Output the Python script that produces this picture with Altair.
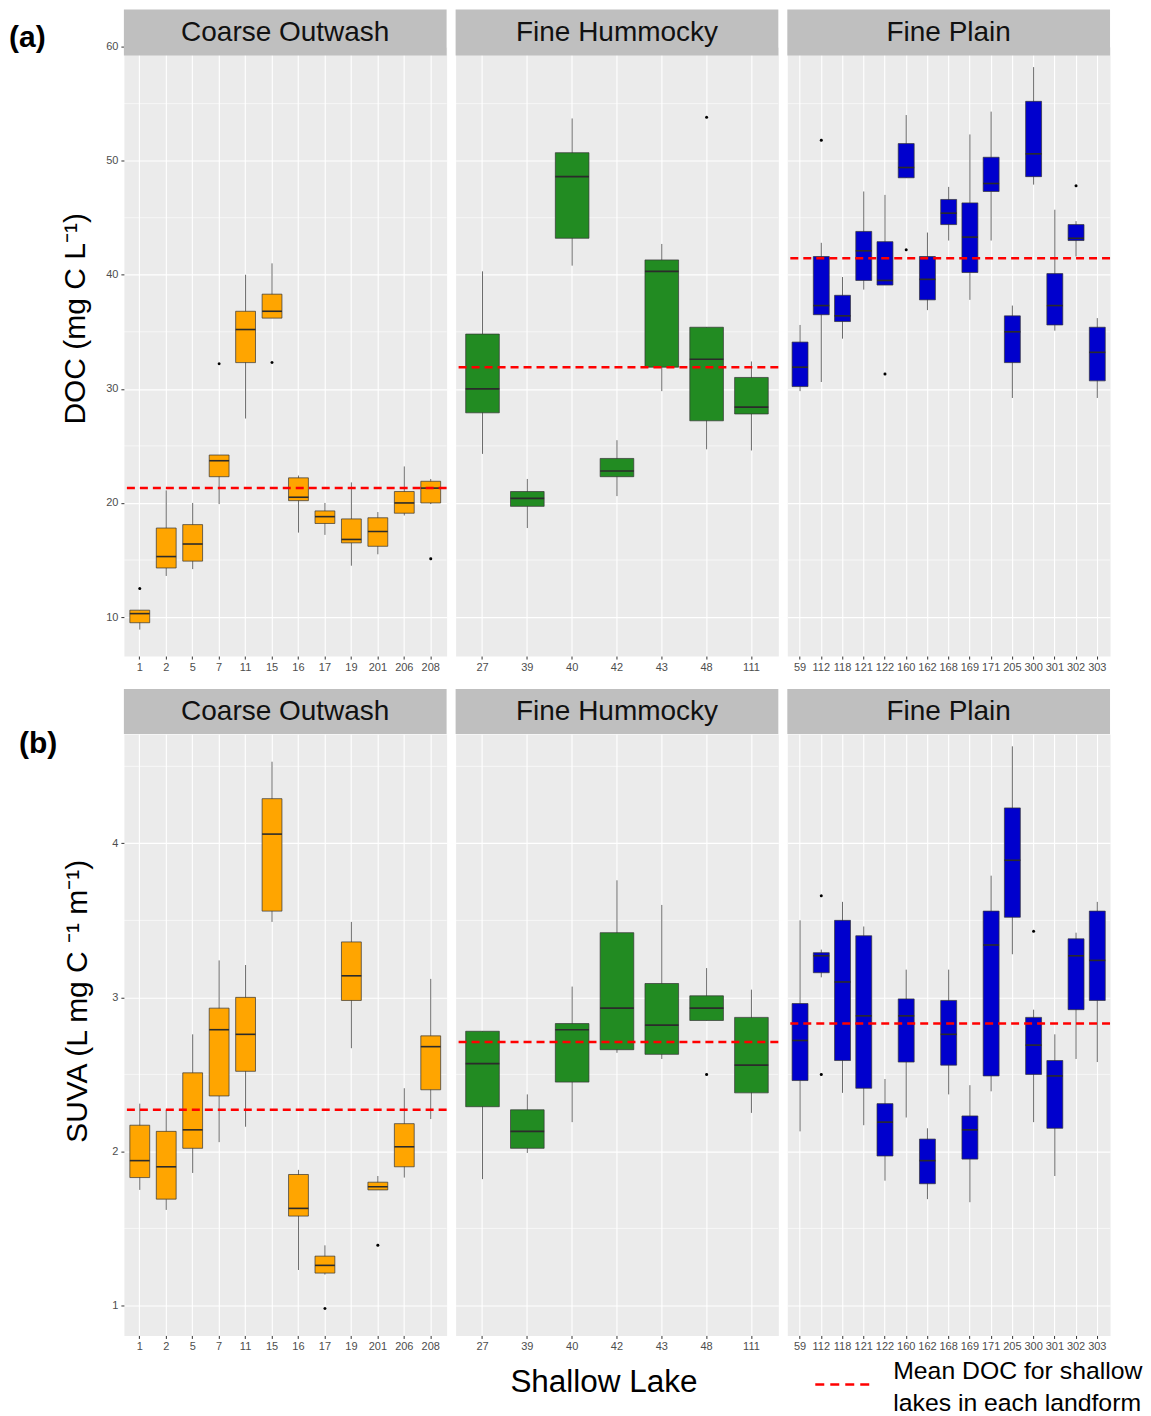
import altair as alt
import pandas as pd

# ---------------- data ----------------
landforms = ["Coarse Outwash", "Fine Hummocky", "Fine Plain"]
fills = ["#FFA500", "#228B22", "#0000CD"]

co_lakes = ["1", "2", "5", "7", "11", "15", "16", "17", "19", "201", "206", "208"]
fh_lakes = ["27", "39", "40", "42", "43", "48", "111"]
fp_lakes = ["59", "112", "118", "121", "122", "160", "162", "168", "169", "171",
            "205", "300", "301", "302", "303"]

# DOC (mg C L-1) box statistics: lower whisker, Q1, median, Q3, upper whisker
doc_co_lo = [8.9, 13.6, 14.2, 19.9, 27.4, 36.2, 17.4, 17.2, 14.5, 15.5, 18.9, 19.9]
doc_co_q1 = [9.5, 14.3, 14.9, 22.3, 32.3, 36.2, 20.2, 18.2, 16.5, 16.2, 19.1, 20.0]
doc_co_med = [10.3, 15.3, 16.4, 23.7, 35.2, 36.8, 20.5, 18.8, 16.8, 17.5, 20.0, 21.3]
doc_co_q3 = [10.6, 17.8, 18.1, 24.2, 36.8, 38.3, 22.2, 19.3, 18.6, 18.7, 21.0, 21.9]
doc_co_hi = [10.6, 21.1, 20.0, 24.2, 40.0, 41.0, 22.4, 20.0, 21.8, 19.2, 23.2, 22.1]
doc_co_out_lake = ["1", "7", "15", "208"]
doc_co_out_val = [12.5, 32.2, 32.3, 15.1]

doc_fh_lo = [24.3, 17.8, 40.8, 20.6, 29.8, 24.7, 24.6]
doc_fh_q1 = [27.9, 19.7, 43.2, 22.3, 31.9, 27.2, 27.8]
doc_fh_med = [30.0, 20.4, 48.6, 22.8, 40.3, 32.6, 28.4]
doc_fh_q3 = [34.8, 21.0, 50.7, 23.9, 41.3, 35.4, 31.0]
doc_fh_hi = [40.3, 22.1, 53.7, 25.5, 42.7, 35.4, 32.4]
doc_fh_out_lake = ["48"]
doc_fh_out_val = [53.8]

doc_fp_lo = [29.8, 30.6, 34.4, 38.7, 39.1, 48.5, 36.9, 43.0, 37.8, 43.0, 29.2, 47.9, 35.1, 41.6, 29.2]
doc_fp_q1 = [30.2, 36.5, 35.9, 39.5, 39.1, 48.5, 37.8, 44.4, 40.2, 47.3, 32.3, 48.6, 35.6, 43.0, 30.7]
doc_fp_med = [31.9, 37.3, 36.4, 42.1, 39.5, 49.4, 39.6, 45.4, 43.3, 48.0, 35.0, 50.6, 37.3, 43.2, 33.2]
doc_fp_q3 = [34.1, 41.6, 38.2, 43.8, 42.9, 51.5, 41.6, 46.6, 46.3, 50.3, 36.4, 55.2, 40.1, 44.4, 35.4]
doc_fp_hi = [35.6, 42.8, 39.8, 47.3, 47.0, 54.0, 43.7, 47.7, 52.3, 54.3, 37.3, 58.2, 45.7, 44.7, 36.2]
doc_fp_out_lake = ["112", "122", "160", "302"]
doc_fp_out_val = [51.8, 31.3, 42.2, 47.8]

doc_means = [21.3, 31.9, 41.45]

# SUVA (L mg C-1 m-1) box statistics
suva_co_lo = [1.75, 1.62, 1.86, 2.06, 2.16, 3.49, 1.23, 1.20, 2.67, 1.75, 1.83, 2.21]
suva_co_q1 = [1.83, 1.69, 2.02, 2.36, 2.52, 3.56, 1.58, 1.21, 2.98, 1.75, 1.90, 2.40]
suva_co_med = [1.94, 1.90, 2.14, 2.79, 2.76, 4.06, 1.63, 1.26, 3.14, 1.77, 2.03, 2.68]
suva_co_q3 = [2.17, 2.13, 2.51, 2.93, 3.00, 4.29, 1.85, 1.32, 3.36, 1.80, 2.18, 2.75]
suva_co_hi = [2.31, 2.27, 2.76, 3.24, 3.21, 4.53, 1.88, 1.39, 3.49, 1.84, 2.41, 3.12]
suva_co_out_lake = ["17", "201"]
suva_co_out_val = [0.98, 1.39]

suva_fh_lo = [1.82, 1.99, 2.19, 2.64, 2.60, 2.85, 2.25]
suva_fh_q1 = [2.29, 2.02, 2.45, 2.66, 2.63, 2.85, 2.38]
suva_fh_med = [2.57, 2.13, 2.79, 2.93, 2.82, 2.93, 2.56]
suva_fh_q3 = [2.78, 2.27, 2.83, 3.42, 3.09, 3.01, 2.87]
suva_fh_hi = [2.78, 2.37, 3.07, 3.76, 3.60, 3.19, 3.05]
suva_fh_out_lake = ["48"]
suva_fh_out_val = [2.50]

suva_fp_lo = [2.13, 3.13, 2.38, 2.17, 1.81, 2.22, 1.69, 2.37, 1.67, 2.39, 3.28, 2.19, 1.84, 2.60, 2.58]
suva_fp_q1 = [2.46, 3.16, 2.59, 2.41, 1.97, 2.58, 1.79, 2.56, 1.95, 2.49, 3.52, 2.50, 2.15, 2.92, 2.98]
suva_fp_med = [2.72, 3.27, 3.10, 2.88, 2.19, 2.88, 1.94, 2.76, 2.14, 3.34, 3.89, 2.69, 2.49, 3.27, 3.24]
suva_fp_q3 = [2.96, 3.29, 3.50, 3.40, 2.31, 2.99, 2.08, 2.98, 2.23, 3.56, 4.23, 2.87, 2.59, 3.38, 3.56]
suva_fp_hi = [3.50, 3.31, 3.62, 3.46, 2.47, 3.18, 2.15, 3.18, 2.43, 3.79, 4.63, 2.92, 2.76, 3.42, 3.62]
suva_fp_out_lake = ["112", "112", "300"]
suva_fp_out_val = [3.66, 2.50, 3.43]

suva_means = [2.27, 2.71, 2.83]

doc_major = [10, 20, 30, 40, 50, 60]
doc_minor = [15, 25, 35, 45, 55]
suva_major = [1, 2, 3, 4]
suva_minor = [1.5, 2.5, 3.5, 4.5]

panel_tags = ["(a)", "(b)"]
y_titles = ["DOC (mg C L\u207b\u00b9)", "SUVA (L mg C \u207b\u00b9 m\u207b\u00b9)"]
x_title = "Shallow Lake"
legend_text = ["Mean DOC for shallow", "lakes in each landform"]

# ---------------- layout constants ----------------
FONT = "Liberation Sans"
W = 323
H_TOP, H_BOT = 610, 602
DOC_DOMAIN = [6.58, 60]
SUVA_DOMAIN = [0.805, 4.71]


def panel(lakes, lo, q1, med, q3, hi, out_lake, out_val, mean, li, height,
          domain, major, minor, row):
    first = li == 0
    step = W / (len(lakes) + 0.2)
    box = pd.DataFrame({"lake": lakes, "lo": lo, "q1": q1, "med": med, "q3": q3, "hi": hi})
    outl = pd.DataFrame({"lake": out_lake, "v": out_val})
    mdf = pd.DataFrame({"m": [mean]})
    mindf = pd.DataFrame({"v": minor})
    strip_df = pd.DataFrame({"landform": [landforms[li]]})

    yscale = alt.Scale(domain=domain, nice=False, zero=False)
    if first:
        yaxis = alt.Axis(values=major, grid=True, gridColor="white", gridWidth=1.2,
                         domain=False, tickColor="#333333", tickSize=3, tickWidth=1,
                         labelColor="#4D4D4D", labelFontSize=11, labelFont=FONT,
                         labelPadding=3, title=y_titles[row], titleFont=FONT,
                         titleFontSize=30, titleFontWeight="normal", titleColor="black",
                         titleAngle=270, titleAlign="center", titleBaseline="middle",
                         titleX=-48 if row == 0 else -46,
                         titleY=272 if row == 0 else 267)
    else:
        yaxis = alt.Axis(values=major, grid=True, gridColor="white", gridWidth=1.2,
                         domain=False, ticks=False, labels=False, title=None)

    xkw = dict(labelAngle=0, grid=True, gridColor="white", gridWidth=1.1, domain=False,
               tickColor="#333333", tickSize=3, tickWidth=1, labelColor="#4D4D4D",
               labelFontSize=11, labelFont=FONT, labelPadding=2, bandPosition=0.5,
               labelOverlap=False)
    if row == 1 and li == 1:
        xaxis = alt.Axis(title=x_title, titleFont=FONT, titleFontSize=31.5,
                         titleFontWeight="normal", titleColor="black",
                         titleX=148, titleY=47, titleAlign="center",
                         titleBaseline="middle", **xkw)
    else:
        xaxis = alt.Axis(title=None, **xkw)
    xenc = alt.X("lake:N", sort=lakes,
                 scale=alt.Scale(domain=lakes, paddingInner=0, paddingOuter=0.1),
                 axis=xaxis)

    def Y(f):
        return alt.Y(f, scale=yscale, axis=yaxis)

    minor_grid = alt.Chart(mindf).mark_rule(color="white", strokeWidth=0.6).encode(y=Y("v:Q"))
    whisk = alt.Chart(box).mark_rule(color="#6A6A6A", strokeWidth=1).encode(
        x=xenc, y=Y("lo:Q"), y2="hi:Q")
    boxes = alt.Chart(box).mark_bar(width=alt.RelativeBandSize(0.75), color=fills[li],
                                    stroke="#333333", strokeWidth=0.7).encode(
        x=xenc, y=Y("q1:Q"), y2="q3:Q")
    medians = alt.Chart(box).mark_tick(size=0.75 * step, thickness=1.6,
                                       color="#2B2B2B", opacity=1).encode(
        x=xenc, y=Y("med:Q"))
    outs = alt.Chart(outl).mark_circle(size=9, color="black", opacity=1).encode(
        x=xenc, y=Y("v:Q"))
    mline = alt.Chart(mdf).mark_rule(color="#FF0000", strokeDash=[8, 5],
                                     strokeWidth=2.5).encode(y=Y("m:Q"))

    s_top, s_bot, s_mid = (-37, 9, -14) if row == 0 else (-45, 0, -22)
    strip = alt.Chart(strip_df).mark_rect(color="#BFBFBF").encode(
        x=alt.value(0), x2=alt.value(W), y=alt.value(s_top), y2=alt.value(s_bot))
    strip_txt = alt.Chart(strip_df).mark_text(font=FONT, fontSize=28, color="#111111",
                                              baseline="middle", align="center").encode(
        text="landform:N", x=alt.value(W / 2), y=alt.value(s_mid))

    layers = [minor_grid, whisk, boxes, medians, outs, mline, strip, strip_txt]

    if first:
        tag_df = pd.DataFrame({"tag": [panel_tags[row]]})
        tag = alt.Chart(tag_df).mark_text(font=FONT, fontSize=30, fontWeight="bold",
                                          color="black", align="left",
                                          baseline="middle").encode(
            text="tag:N", x=alt.value(-115 if row == 0 else -105),
            y=alt.value(-9 if row == 0 else 10))
        layers.append(tag)

    if row == 1 and li == 2:
        leg_df = pd.DataFrame({"label": ["\n".join(legend_text)]})
        leg_line = alt.Chart(leg_df).mark_rule(color="#FF0000", strokeDash=[9, 6],
                                               strokeWidth=2.5).encode(
            x=alt.value(28), x2=alt.value(84), y=alt.value(651))
        leg_txt = alt.Chart(leg_df).mark_text(font=FONT, fontSize=24.8, color="black",
                                              align="left", baseline="top",
                                              lineBreak="\n", lineHeight=32).encode(
            text="label:N", x=alt.value(106), y=alt.value(626))
        layers += [leg_line, leg_txt]

    return alt.layer(*layers).properties(width=W, height=height)


pa = [
    panel(co_lakes, doc_co_lo, doc_co_q1, doc_co_med, doc_co_q3, doc_co_hi,
          doc_co_out_lake, doc_co_out_val, doc_means[0], 0, H_TOP, DOC_DOMAIN, doc_major, doc_minor, 0),
    panel(fh_lakes, doc_fh_lo, doc_fh_q1, doc_fh_med, doc_fh_q3, doc_fh_hi,
          doc_fh_out_lake, doc_fh_out_val, doc_means[1], 1, H_TOP, DOC_DOMAIN, doc_major, doc_minor, 0),
    panel(fp_lakes, doc_fp_lo, doc_fp_q1, doc_fp_med, doc_fp_q3, doc_fp_hi,
          doc_fp_out_lake, doc_fp_out_val, doc_means[2], 2, H_TOP, DOC_DOMAIN, doc_major, doc_minor, 0),
]
pb = [
    panel(co_lakes, suva_co_lo, suva_co_q1, suva_co_med, suva_co_q3, suva_co_hi,
          suva_co_out_lake, suva_co_out_val, suva_means[0], 0, H_BOT, SUVA_DOMAIN, suva_major, suva_minor, 1),
    panel(fh_lakes, suva_fh_lo, suva_fh_q1, suva_fh_med, suva_fh_q3, suva_fh_hi,
          suva_fh_out_lake, suva_fh_out_val, suva_means[1], 1, H_BOT, SUVA_DOMAIN, suva_major, suva_minor, 1),
    panel(fp_lakes, suva_fp_lo, suva_fp_q1, suva_fp_med, suva_fp_q3, suva_fp_hi,
          suva_fp_out_lake, suva_fp_out_val, suva_means[2], 2, H_BOT, SUVA_DOMAIN, suva_major, suva_minor, 1),
]

chart = alt.concat(*pa, *pb, columns=3, spacing={"row": 78, "column": 9},
                   bounds="flush", align="each").properties(
    padding=0, background="white"
).configure_view(fill="#EBEBEB", stroke="transparent")

chart.save("out.html", embed_options={"renderer": "svg", "actions": False})
